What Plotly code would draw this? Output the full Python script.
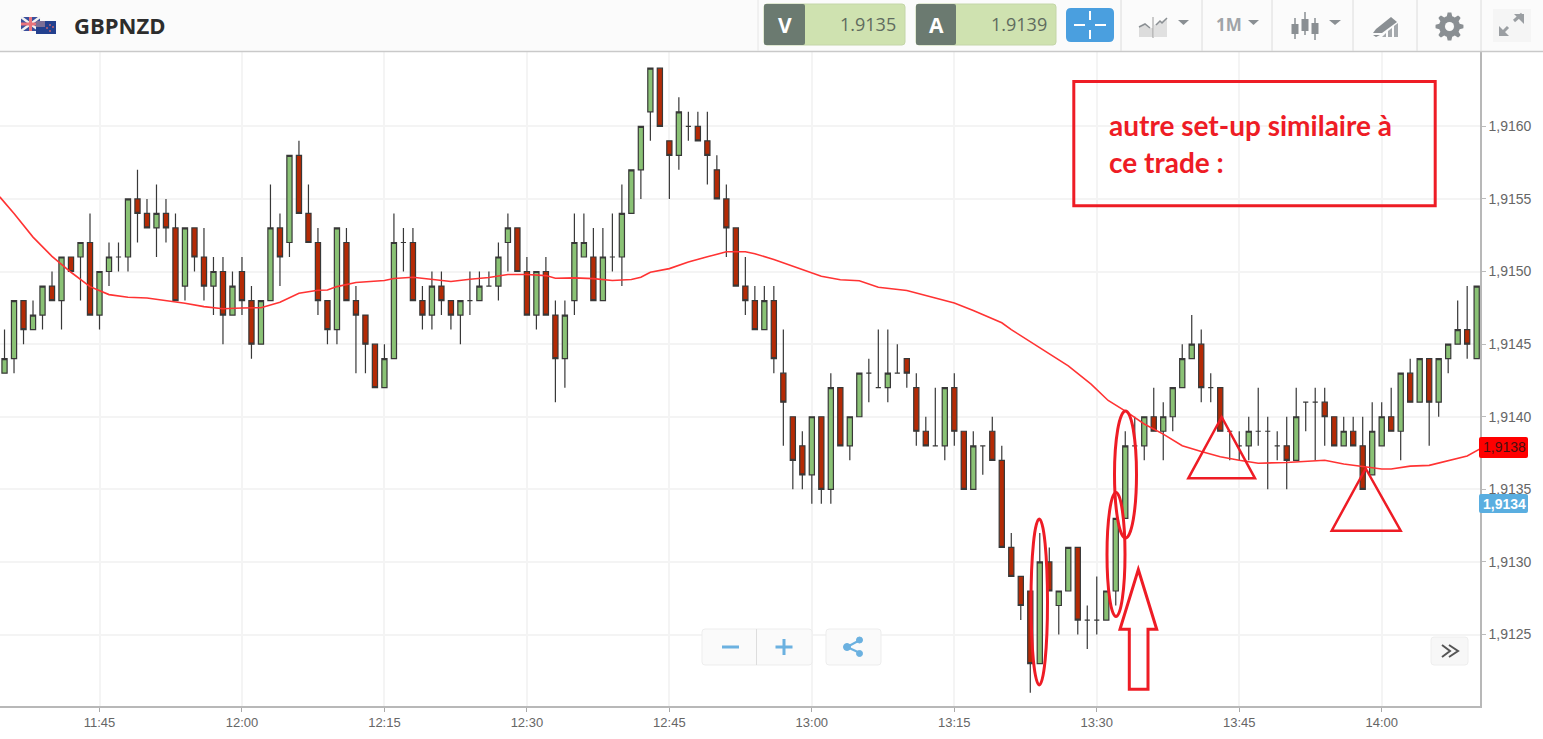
import math
import pandas as pd
import plotly.graph_objects as go

BASE = 1.91
PIP = 0.0001
start_time = "2017-01-02 11:35"

open_pips = [43,44,48,46,47,49,48,51,51,52,47,50,51,51,55,54,53,54,53,49,53,51,49,50,47,50,48,45,48,53,52,58,54,52,48,46,52,48,47,45,
             42,44,52,52,48,47,49,48,47,48,48,49,49,52,53,50,47,50,47,44,48,51,51,48,51,51,54,57,61,64,59,58,60,60,59,57,55,53,49,48,
             46,48,43,40,38,36,40,35,42,38,40,43,42,42,43,44,42,39,38,38,42,39,35,38,39,37,31,29,28,23,30,27,28,31,26,26,26,28,33,38,
             38,40,39,40,42,44,45,42,42,39,38,38,39,39,38,38,37,41,41,41,40,38,39,38,36,38,40,39,43,41,44,41,44,45,46,44]
high_pips = [46,48,48,48,49,50,51,51,52,54,50,52,52,55,57,55,56,55,54,53,53,53,51,51,50,51,49,48,56,54,58,59,56,53,48,53,53,49,47,45,
             45,54,53,53,49,50,50,48,48,50,50,50,52,54,53,51,50,51,48,48,54,54,53,53,54,56,57,60,64,64,59,62,61,61,61,58,56,53,51,49,
             49,49,46,40,39,40,40,43,42,40,43,44,46,46,45,44,43,40,42,42,43,39,39,38,40,38,32,29,28,32,31,28,31,31,27,29,28,33,39,40,
             40,42,41,42,45,47,46,43,42,39,39,40,42,40,39,40,42,41,42,42,40,40,40,40,41,41,42,43,44,44,44,44,45,48,49,49]
low_pips = [43,43,45,46,46,48,46,50,48,47,46,49,50,50,52,53,51,52,48,48,50,48,47,45,47,47,44,45,48,49,51,54,52,47,45,45,48,43,43,42,
            42,44,50,48,46,46,47,46,45,47,48,49,48,50,50,47,46,47,41,42,47,51,48,48,50,49,54,55,59,60,55,57,59,59,56,55,51,49,47,46,
            46,43,38,35,35,34,34,34,38,37,40,41,42,41,43,42,38,38,38,37,38,35,35,36,37,31,29,26,21,23,28,25,28,25,24,25,26,27,33,38,
            37,39,37,39,42,44,41,41,39,37,37,37,38,35,37,35,37,39,37,38,38,38,38,35,36,38,39,37,41,41,38,40,43,45,44,44]
close_pips = [44,48,46,47,49,48,51,50,52,47,50,51,51,55,54,53,54,53,48,53,51,49,50,47,49,48,45,48,53,51,58,54,52,48,46,53,48,47,45,42,
              44,52,52,48,47,49,48,47,48,48,49,49,51,53,50,47,50,47,44,47,52,52,48,51,51,54,57,60,64,60,58,61,60,59,58,55,53,49,48,46,
              48,44,41,37,36,40,35,42,38,40,43,43,42,43,43,43,39,38,38,42,39,35,38,38,37,31,29,27,23,30,28,28,31,26,26,26,28,33,38,38,
              40,39,40,42,44,45,42,42,39,39,38,39,39,39,38,37,40,41,41,40,38,39,38,35,39,40,39,43,41,44,41,44,45,46,45,49]

ma_minutes = [-0.5,1,3,5,7,9,11,13,15,17,19,21,23,25,27,29,31,33,34,35,37,40,41,43,45,47,49,51,53,55,57,58,60,62,64,66,67,68,70,72,74,76,78,79,81,83,
              86,88,90,92,95,98,100,102,105,106,109,112,114.4,116.2,118.1,120,122,124,126,128,130,132,135,137,139,141,143,145,146,148,150,152,154,155.4]
ma_pips = [55.14,53.99,52.37,51.04,49.95,48.96,48.41,48.23,48.18,48.0,47.81,47.58,47.44,47.49,47.51,47.88,48.5,48.71,48.73,48.96,49.24,49.38,49.52,49.61,49.45,49.31,49.47,49.59,49.79,49.79,49.72,49.54,49.56,49.51,49.38,49.45,49.61,49.95,50.2,50.65,51.01,51.36,51.36,51.22,50.83,50.35,
           49.68,49.43,49.36,48.92,48.69,48.17,47.84,47.32,46.47,46.0,44.77,43.5,42.25,41.12,40.35,39.5,38.8,38.0,37.6,37.25,37.0,36.8,36.85,36.9,37.0,36.75,36.55,36.4,36.4,36.6,36.65,37.0,37.3,37.8]

y_ticks = [1.9125, 1.9130, 1.9135, 1.9140, 1.9145, 1.9150, 1.9155, 1.9160]
title_text = "GBPNZD"
sell_price = "1.9135"
buy_price = "1.9139"
note_lines = ["autre set-up similaire à", "ce trade :"]
last_label = "1,9138"
cursor_label = "1,9134"

t0 = pd.Timestamp(start_time)
times = [t0 + pd.Timedelta(minutes=i) for i in range(len(open_pips))]
ma_times = [t0 + pd.Timedelta(minutes=m) for m in ma_minutes]
to_price = lambda p: BASE + p * PIP

W, H = 1543, 739
L, R, T, B = 0, 1480, 52, 706
fx = lambda x: (x - L) / (R - L)
fy = lambda y: (B - y) / (B - T)

shapes, notes = [], []


def rect(x0, y0, x1, y1, fill="rgba(0,0,0,0)", line=None, lw=1):
    shapes.append(dict(type="rect", xref="paper", yref="paper", x0=fx(x0), x1=fx(x1), y0=fy(y0), y1=fy(y1),
                       fillcolor=fill, line=dict(color=line or "rgba(0,0,0,0)", width=lw if line else 0)))


def rrect(x0, y0, x1, y1, r, fill, line=None, lw=1):
    p = [f"M{fx(x0+r)},{fy(y0)}", f"L{fx(x1-r)},{fy(y0)}", f"Q{fx(x1)},{fy(y0)} {fx(x1)},{fy(y0+r)}",
         f"L{fx(x1)},{fy(y1-r)}", f"Q{fx(x1)},{fy(y1)} {fx(x1-r)},{fy(y1)}", f"L{fx(x0+r)},{fy(y1)}",
         f"Q{fx(x0)},{fy(y1)} {fx(x0)},{fy(y1-r)}", f"L{fx(x0)},{fy(y0+r)}", f"Q{fx(x0)},{fy(y0)} {fx(x0+r)},{fy(y0)}Z"]
    shapes.append(dict(type="path", xref="paper", yref="paper", path=" ".join(p), fillcolor=fill,
                       line=dict(color=line or "rgba(0,0,0,0)", width=lw if line else 0)))


def poly(points, fill="rgba(0,0,0,0)", line=None, lw=1, closed=True):
    d = "M" + " L".join(f"{fx(x)},{fy(y)}" for x, y in points) + ("Z" if closed else "")
    shapes.append(dict(type="path", xref="paper", yref="paper", path=d, fillcolor=fill,
                       line=dict(color=line or "rgba(0,0,0,0)", width=lw if line else 0)))


def seg(x0, y0, x1, y1, color, lw=1):
    shapes.append(dict(type="line", xref="paper", yref="paper", x0=fx(x0), x1=fx(x1), y0=fy(y0), y1=fy(y1),
                       line=dict(color=color, width=lw)))


def oval(x0, y0, x1, y1, color, lw=3):
    shapes.append(dict(type="circle", xref="paper", yref="paper", x0=fx(x0), x1=fx(x1), y0=fy(y0), y1=fy(y1),
                       line=dict(color=color, width=lw)))


def text(x, y, s, size, color, anchor="center", family="Liberation Sans", bold=False):
    notes.append(dict(xref="paper", yref="paper", x=fx(x), y=fy(y), text=f"<b>{s}</b>" if bold else s, showarrow=False,
                      xanchor=anchor, yanchor="middle", borderpad=0,
                      font=dict(size=size, color=color, family=family)))


RED = "#ee1c25"
GREY = "#8a8f93"

# top bar
rect(0, 0, W, 51, "#fbfbfb")
seg(0, 51.5, W, 51.5, "#c9c9c9", 1.5)
for dx in [1121, 1202, 1272, 1353, 1417, 1481]:
    seg(dx, 0, dx, 51, "#dcdcdc", 1)
seg(758, 0, 758, 51, "#e6e6e6", 1)

# flags
rect(21, 17, 40, 31, "#3a4f9c")
seg(21, 17, 40, 31, "#f2f2f2", 2.5)
seg(40, 17, 21, 31, "#f2f2f2", 2.5)
seg(30.5, 17, 30.5, 31, "#e8737c", 3)
seg(21, 24, 40, 24, "#e8737c", 3)
rect(36, 21, 56, 34, "#23408e")
rect(36, 21, 45, 27, "#7d6f96")
for fxx, fyy in [(50, 25), (53, 27), (50, 31), (47, 28)]:
    rect(fxx - 0.8, fyy - 0.8, fxx + 0.8, fyy + 0.8, "#e86a6a")
text(73, 25, title_text, 22, "#2d2d2d", "left", "Open Sans", True)

# price boxes
for x0, x1, x2, letter, price in [(764, 805, 905, "V", sell_price), (916, 956, 1056, "A", buy_price)]:
    rrect(x0, 4, x2, 45, 3, "#cfe2b0", "#c4d6a8", 1)
    rrect(x0, 4, x1, 45, 2, "#6b7a70")
    text((x0 + x1) / 2, 25, letter, 21, "#ffffff", "center", "Open Sans", True)
    text(x2 - 8, 24, price, 18, "#5f6b5f", "right", "Open Sans")
rrect(1066, 8, 1114, 42, 5, "#4a9fdf")
seg(1090, 11, 1090, 20, "#ffffff", 2)
seg(1090, 30, 1090, 39, "#ffffff", 2)
seg(1074, 25, 1085, 25, "#ffffff", 2)
seg(1095, 25, 1106, 25, "#ffffff", 2)

# toolbar icons
poly([(1139, 37), (1139, 27), (1145, 24), (1150, 28), (1153, 28), (1153, 37)], "#dcdcdc")
poly([(1154, 37), (1154, 25), (1160, 22), (1167, 18), (1167, 37)], "#e0e0e0")
poly([(1139, 27), (1145, 24), (1150, 28)], line="#8a8f93", lw=1.5, closed=False)
poly([(1156, 25), (1160, 21), (1162, 23), (1167, 18)], line="#8a8f93", lw=1.5, closed=False)
seg(1153, 17, 1153, 38, "#9a9a9a", 1)
for a, b in [(1178, 1189), (1248, 1259), (1329, 1341)]:
    poly([(a, 20), (b, 20), ((a + b) / 2, 25)], GREY)
text(1229, 25, "1M", 17, "#a0a4a8", "center", "Open Sans", True)
for cx, a, b, c, d in [(1295, 18, 24, 34, 39), (1305, 12, 19, 31, 35), (1315, 18, 23, 34, 40)]:
    seg(cx, a, cx, d, GREY, 1.5)
    rect(cx - 3.5, b, cx + 3.5, c, GREY)
poly([(1373, 33), (1376, 29), (1391, 17), (1397, 22), (1382, 33)], GREY)
poly([(1373, 35), (1380, 35), (1376, 37)], GREY)
poly([(1382, 37), (1386, 33), (1386, 37)], "#a5a9ad")
poly([(1388, 37), (1388, 31), (1392, 28), (1392, 37)], "#a5a9ad")
poly([(1394, 37), (1394, 26), (1398, 23), (1398, 37)], "#a5a9ad")

gear = []
for k in range(48):
    a = 2 * math.pi * k / 48
    r = 14 if (k % 6) in (0, 1, 5) else 10.5
    gear.append((1449.5 + r * math.cos(a), 26.5 + r * math.sin(a)))
poly(gear, GREY)
oval(1445, 22, 1454, 31, "#fbfbfb", 0.1)
shapes[-1]["fillcolor"] = "#fbfbfb"

rect(1493, 9, 1531, 42, "#f5f5f5")
seg(1501, 34, 1508, 27, "#9a9ea2", 3)
seg(1514, 21, 1522, 14, "#9a9ea2", 3)
poly([(1499, 26), (1499, 36), (1509, 36)], "#9a9ea2")
poly([(1514, 14), (1524, 14), (1524, 24)], "#9a9ea2")

# on-chart controls
rrect(702, 629, 812, 665, 3, "#fafafa", "#ededed", 1)
seg(756.5, 629, 756.5, 665, "#dddddd", 1)
rect(722, 645.5, 739, 648.5, "#6bb1e0")
rect(775.5, 645.5, 792.5, 648.5, "#6bb1e0")
rect(782.5, 639, 785.5, 655, "#6bb1e0")
rrect(826, 629, 881, 665, 3, "#fafafa", "#ededed", 1)
seg(847, 647, 860, 640, "#6bb1e0", 2)
seg(847, 647, 860, 653, "#6bb1e0", 2)
oval(843.5, 643.5, 850.5, 650.5, "#6bb1e0", 1)
shapes[-1]["fillcolor"] = "#6bb1e0"
oval(856.5, 637, 862.5, 643, "#6bb1e0", 1)
shapes[-1]["fillcolor"] = "#6bb1e0"
oval(856.5, 650.5, 862.5, 656.5, "#6bb1e0", 1)
shapes[-1]["fillcolor"] = "#6bb1e0"
rrect(1431, 637, 1468, 665, 3, "#f7f7f7", "#eeeeee", 1)
poly([(1442, 645), (1450, 651), (1442, 657)], line="#555555", lw=2, closed=False)
poly([(1449, 645), (1458, 651), (1449, 657)], line="#555555", lw=2, closed=False)

# price labels on the axis
rrect(1479, 437, 1528, 458, 2, "#ff0000")
text(1504, 447, last_label, 14, "#4a1010")
rrect(1479, 494, 1528, 513, 2, "#5aaee0")
text(1504, 503.5, cursor_label, 14, "#ffffff", bold=True)

# hand-drawn annotations
rect(1073.8, 81.5, 1435.2, 205.8, line=RED, lw=3)
text(1108, 125, note_lines[0], 28, RED, "left", "Lato", True)
text(1108, 162, note_lines[1], 28, RED, "left", "Lato", True)
oval(1031, 519, 1047.5, 685, RED)
oval(1107, 492.5, 1125, 616.5, RED)
oval(1114.5, 411, 1136.5, 538, RED)
poly([(1138.3, 569.5), (1156.7, 629.3), (1148, 629.3), (1148, 689.3), (1129.3, 689.3), (1129.3, 629.3), (1120, 629.3)], line=RED, lw=3)
poly([(1221.7, 417), (1255, 478.3), (1188.3, 478.3)], line=RED, lw=2.5)
poly([(1365.7, 468.5), (1400.7, 530.7), (1331.7, 530.7)], line=RED, lw=2.5)

fig = go.Figure()
fig.add_trace(go.Candlestick(
    x=times,
    open=[to_price(v) for v in open_pips],
    high=[to_price(v) for v in high_pips],
    low=[to_price(v) for v in low_pips],
    close=[to_price(v) for v in close_pips],
    increasing=dict(fillcolor="#8ac275", line=dict(color="#383838", width=1.2)),
    decreasing=dict(fillcolor="#b42a05", line=dict(color="#383838", width=1.2)),
    whiskerwidth=0,
    hoverinfo="skip",
    showlegend=False,
))
fig.add_trace(go.Scatter(
    x=ma_times, y=[to_price(v) for v in ma_pips], mode="lines",
    line=dict(color="#ff3333", width=1.6), hoverinfo="skip", showlegend=False,
))

x_lo = t0 + pd.Timedelta(minutes=-0.476)
x_hi = t0 + pd.Timedelta(minutes=155.35)
fig.update_layout(
    width=W, height=H, autosize=False,
    margin=dict(l=L, r=W - R, t=T, b=H - B, pad=0),
    paper_bgcolor="#ffffff", plot_bgcolor="#ffffff",
    separators=", ",
    boxgap=0.22,
    shapes=shapes, annotations=notes,
    xaxis=dict(
        range=[x_lo, x_hi], type="date", rangeslider=dict(visible=False),
        tick0=t0 + pd.Timedelta(minutes=10), dtick=15 * 60 * 1000, tickformat="%H:%M",
        showgrid=True, gridcolor="#f4f4f4", gridwidth=1.5, ticks="outside", ticklen=4,
        tickcolor="#aaaaaa", showline=True, linecolor="#b8b8b8", linewidth=1.5,
        tickfont=dict(family="Liberation Sans", size=13, color="#666666"), zeroline=False,
    ),
    yaxis=dict(
        side="right", range=[to_price(20.08), to_price(65.117)], tickvals=y_ticks, tickformat=".4f",
        showgrid=True, gridcolor="#f4f4f4", gridwidth=1.5, ticks="outside", ticklen=4,
        tickcolor="#bbbbbb", showline=True, linecolor="#b8b8b8", linewidth=1.5,
        tickfont=dict(family="Liberation Sans", size=14, color="#666666"), zeroline=False,
    ),
)
fig.write_html("out.html", config=dict(displayModeBar=False),
               post_script="document.body.style.margin='0';")
